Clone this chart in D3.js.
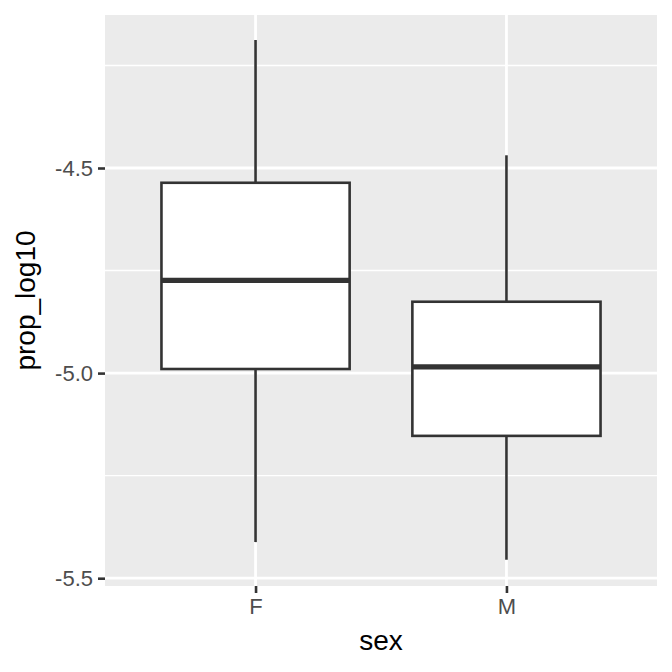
<!DOCTYPE html>
<html>
<head>
<meta charset="utf-8">
<script src="https://cdn.jsdelivr.net/npm/d3@7"></script>
<style>
  body { margin: 0; background: #fff; }
  text { font-family: "Liberation Sans", Arial, sans-serif; }
</style>
</head>
<body>
<svg id="chart" width="672" height="672"></svg>
<script>
// data
const categories = ["F", "M"];
const whiskerLow = [-5.412, -5.455];
const q1 = [-4.990, -5.153];
const median = [-4.774, -4.985];
const q3 = [-4.536, -4.826];
const whiskerHigh = [-4.188, -4.469];
const yTicks = [-5.5, -5.0, -4.5];
const yMinor = [-5.25, -4.75, -4.25];

const width = 672, height = 672;
const margin = {top: 15, right: 15, bottom: 86, left: 105};
const pw = width - margin.left - margin.right;
const ph = height - margin.top - margin.bottom;

const svg = d3.select("#chart");
const g = svg.append("g")
    .attr("transform", "translate(" + margin.left + "," + margin.top + ")");

// discrete x: positions 1..n, expanded 0.6 each side
const x = d3.scaleLinear().domain([0.4, categories.length + 0.6]).range([0, pw]);
const y = d3.scaleLinear().domain([-5.519, -4.127]).range([ph, 0]);

// panel background
g.append("rect").attr("width", pw).attr("height", ph).attr("fill", "#EBEBEB");

// minor grid
g.selectAll(".minor").data(yMinor).enter().append("line")
    .attr("x1", 0).attr("x2", pw)
    .attr("y1", d => y(d)).attr("y2", d => y(d))
    .attr("stroke", "#fff").attr("stroke-width", 1.4);

// major grid
g.selectAll(".major-y").data(yTicks).enter().append("line")
    .attr("x1", 0).attr("x2", pw)
    .attr("y1", d => y(d)).attr("y2", d => y(d))
    .attr("stroke", "#fff").attr("stroke-width", 2.8);
g.selectAll(".major-x").data(categories).enter().append("line")
    .attr("x1", (d, i) => x(i + 1)).attr("x2", (d, i) => x(i + 1))
    .attr("y1", 0).attr("y2", ph)
    .attr("stroke", "#fff").attr("stroke-width", 2.8);

// boxes
const boxW = x(1.75) - x(1);
const boxes = g.selectAll(".box").data(categories).enter().append("g");

boxes.append("line")
    .attr("x1", (d, i) => x(i + 1)).attr("x2", (d, i) => x(i + 1))
    .attr("y1", (d, i) => y(whiskerHigh[i])).attr("y2", (d, i) => y(q3[i]))
    .attr("stroke", "#333").attr("stroke-width", 2.6);
boxes.append("line")
    .attr("x1", (d, i) => x(i + 1)).attr("x2", (d, i) => x(i + 1))
    .attr("y1", (d, i) => y(q1[i])).attr("y2", (d, i) => y(whiskerLow[i]))
    .attr("stroke", "#333").attr("stroke-width", 2.6);
boxes.append("rect")
    .attr("x", (d, i) => x(i + 1) - boxW / 2)
    .attr("width", boxW)
    .attr("y", (d, i) => y(q3[i]))
    .attr("height", (d, i) => y(q1[i]) - y(q3[i]))
    .attr("fill", "#fff").attr("stroke", "#333").attr("stroke-width", 2.6);
boxes.append("line")
    .attr("x1", (d, i) => x(i + 1) - boxW / 2).attr("x2", (d, i) => x(i + 1) + boxW / 2)
    .attr("y1", (d, i) => y(median[i])).attr("y2", (d, i) => y(median[i]))
    .attr("stroke", "#333").attr("stroke-width", 5.2);

// y axis
const yAxis = g.append("g")
    .call(d3.axisLeft(y).tickValues(yTicks).tickFormat(d3.format(".1f")).tickSize(7).tickPadding(5));
yAxis.select(".domain").remove();
yAxis.selectAll("line").attr("stroke", "#333").attr("stroke-width", 2.6);
yAxis.selectAll("text").attr("fill", "#4D4D4D").style("font-size", "22px")
    .text(d => d3.format(".1f")(d).replace("−", "-"));

// x axis
const xAxis = g.append("g")
    .attr("transform", "translate(0," + ph + ")")
    .call(d3.axisBottom(x).tickValues(categories.map((d, i) => i + 1))
        .tickFormat((d, i) => categories[i]).tickSize(7).tickPadding(5));
xAxis.select(".domain").remove();
xAxis.selectAll("line").attr("stroke", "#333").attr("stroke-width", 2.6);
xAxis.selectAll("text").attr("fill", "#4D4D4D").style("font-size", "22px");

// axis titles
svg.append("text")
    .attr("x", margin.left + pw / 2).attr("y", 650)
    .attr("text-anchor", "middle")
    .style("font-size", "28px").attr("fill", "#000")
    .text("sex");
svg.append("text")
    .attr("transform", "translate(35," + (margin.top + ph / 2) + ") rotate(-90)")
    .attr("text-anchor", "middle")
    .style("font-size", "28px").attr("fill", "#000")
    .text("prop_log10");
</script>
</body>
</html>
